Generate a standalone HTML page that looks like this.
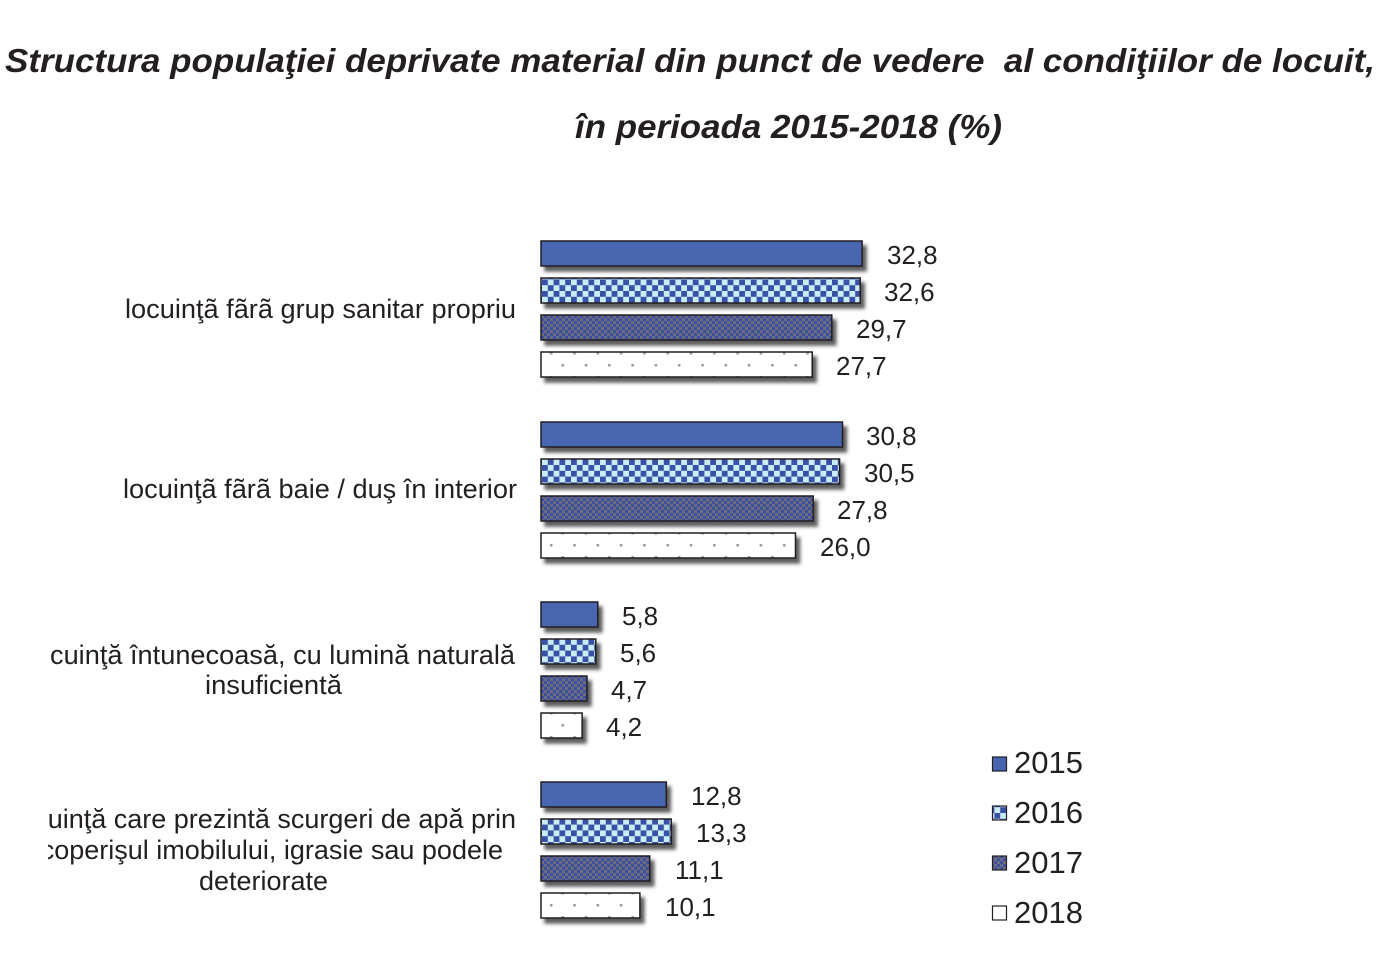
<!DOCTYPE html>
<html><head><meta charset="utf-8"><style>
html,body{margin:0;padding:0;background:#fff;}
svg{display:block;}
text{font-family:"Liberation Sans",Arial,sans-serif;fill:#231f20;}
</style></head><body>
<svg width="1388" height="960" viewBox="0 0 1388 960" xmlns="http://www.w3.org/2000/svg">
<defs>
<pattern id="p16" patternUnits="userSpaceOnUse" x="542" y="1" width="11.6" height="11.6">
<rect width="11.6" height="11.6" fill="#c9edf5"/>
<rect x="0" y="0" width="5.8" height="5.8" fill="#3a51a7"/>
<rect x="5.8" y="5.8" width="5.8" height="5.8" fill="#3a51a7"/>
</pattern>
<pattern id="p17" patternUnits="userSpaceOnUse" x="541" y="0" width="6" height="6">
<rect width="6" height="6" fill="#6c6d7a"/>
<rect x="0" y="0" width="3" height="3" fill="#3c4fa3"/>
<rect x="3" y="3" width="3" height="3" fill="#3c4fa3"/>
</pattern>
<pattern id="p18" patternUnits="userSpaceOnUse" x="541" y="0" width="23.3" height="24">
<rect width="23.3" height="24" fill="#fff"/>
<rect x="20.5" y="4" width="2.5" height="2.5" fill="#999"/>
<rect x="9" y="16" width="2.5" height="2.5" fill="#999"/>
</pattern>
<filter id="sh" x="-10%" y="-30%" width="130%" height="180%">
<feDropShadow dx="4" dy="5" stdDeviation="1.8" flood-color="#2a2a2a" flood-opacity="0.75"/>
</filter>
<clipPath id="lc"><rect x="48" y="0" width="480" height="960"/></clipPath>
</defs>

<!-- Title -->
<text x="5" y="72" font-size="33" font-weight="bold" font-style="italic" textLength="1370" lengthAdjust="spacingAndGlyphs" xml:space="preserve">Structura populaţiei deprivate material din punct de vedere  al condiţiilor de locuit,</text>
<text x="575" y="138" font-size="33" font-weight="bold" font-style="italic" textLength="427" lengthAdjust="spacingAndGlyphs">în perioada 2015-2018 (%)</text>

<!-- Category labels -->
<g font-size="27" clip-path="url(#lc)">
<text x="125" y="318" textLength="391" lengthAdjust="spacingAndGlyphs">locuinţã fãrã grup sanitar propriu</text>
<text x="123" y="498" textLength="394" lengthAdjust="spacingAndGlyphs">locuinţã fãrã baie / duş în interior</text>
<text x="50" y="664" textLength="465" lengthAdjust="spacingAndGlyphs">cuinţă întunecoasă, cu lumină naturală</text>
<text x="205" y="694" textLength="137" lengthAdjust="spacingAndGlyphs">insuficientă</text>
<text x="516" y="828" text-anchor="end">locuinţă care prezintă scurgeri de apă prin</text>
<text x="503" y="859" text-anchor="end">acoperişul imobilului, igrasie sau podele</text>
<text x="199" y="890" textLength="129" lengthAdjust="spacingAndGlyphs">deteriorate</text>
</g>

<!-- Bars -->
<g stroke="#231f20" stroke-width="1.5" filter="url(#sh)">
<rect x="541" y="241" width="321.1" height="25" fill="#4866b0"/>
<rect x="541" y="278" width="319.2" height="25" fill="url(#p16)"/>
<rect x="541" y="315" width="290.8" height="25" fill="url(#p17)"/>
<rect x="541" y="352" width="271.2" height="25" fill="url(#p18)"/>

<rect x="541" y="422" width="301.5" height="25" fill="#4866b0"/>
<rect x="541" y="459" width="298.6" height="25" fill="url(#p16)"/>
<rect x="541" y="496" width="272.2" height="25" fill="url(#p17)"/>
<rect x="541" y="533" width="254.5" height="25" fill="url(#p18)"/>

<rect x="541" y="602" width="56.8" height="25" fill="#4866b0"/>
<rect x="541" y="639" width="54.8" height="25" fill="url(#p16)"/>
<rect x="541" y="676" width="46.0" height="25" fill="url(#p17)"/>
<rect x="541" y="713" width="41.1" height="25" fill="url(#p18)"/>

<rect x="541" y="782" width="125.3" height="25" fill="#4866b0"/>
<rect x="541" y="819" width="130.2" height="25" fill="url(#p16)"/>
<rect x="541" y="856" width="108.7" height="25" fill="url(#p17)"/>
<rect x="541" y="893" width="98.9" height="25" fill="url(#p18)"/>
</g>

<!-- Values -->
<g font-size="26">
<text x="887" y="264">32,8</text>
<text x="884" y="301">32,6</text>
<text x="856" y="338">29,7</text>
<text x="836" y="375">27,7</text>

<text x="866" y="445">30,8</text>
<text x="864" y="482">30,5</text>
<text x="837" y="519">27,8</text>
<text x="820" y="556">26,0</text>

<text x="622" y="625">5,8</text>
<text x="620" y="662">5,6</text>
<text x="611" y="699">4,7</text>
<text x="606" y="736">4,2</text>

<text x="691" y="805">12,8</text>
<text x="696" y="842">13,3</text>
<text x="675" y="879">11,1</text>
<text x="665" y="916">10,1</text>
</g>

<!-- Legend -->
<g stroke="#231f20" stroke-width="1.2">
<rect x="992.5" y="757" width="14" height="14" fill="#4866b0"/>
<rect x="992.5" y="806" width="14" height="14" fill="url(#p16)"/>
<rect x="992.5" y="856" width="14" height="14" fill="url(#p17)"/>
<rect x="992.5" y="906" width="14" height="14" fill="#fff"/>
</g>
<g font-size="31">
<text x="1014" y="773">2015</text>
<text x="1014" y="823">2016</text>
<text x="1014" y="873">2017</text>
<text x="1014" y="923">2018</text>
</g>
</svg>
</body></html>
